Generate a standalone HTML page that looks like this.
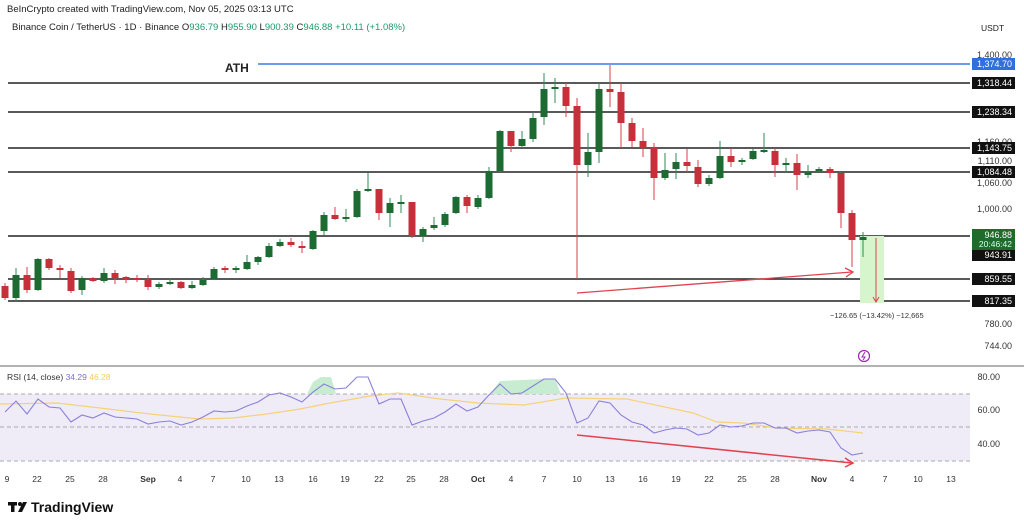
<!DOCTYPE html>
<html><head><meta charset="utf-8"><style>
html,body{margin:0;padding:0;background:#fff;width:1024px;height:526px;overflow:hidden}
svg{display:block;font-family:"Liberation Sans",sans-serif}
</style></head><body>
<svg id="s" width="1024" height="526" viewBox="0 0 1024 526" xmlns="http://www.w3.org/2000/svg">
<text x="7" y="12" font-size="9.5" fill="#222">BeInCrypto created with TradingView.com, Nov 05, 2025 03:13 UTC</text>
<text x="12" y="30" font-size="9.5" fill="#222">Binance Coin / TetherUS · 1D · Binance  <tspan>O</tspan><tspan fill="#1a9a6c">936.79</tspan> H<tspan fill="#1a9a6c">955.90</tspan> L<tspan fill="#1a9a6c">900.39</tspan> C<tspan fill="#1a9a6c">946.88</tspan> <tspan fill="#1a9a6c">+10.11 (+1.08%)</tspan></text>
<text x="981" y="31" font-size="8.5" fill="#222">USDT</text>
<rect x="0" y="394" width="970" height="67" fill="#efecf8"/>
<g id="g"></g>
</svg>
<script>
const g=document.getElementById('g');let h='';
const X=d=>5+11*d;
// horizontal levels
h+='<line x1="258" y1="64" x2="970" y2="64" stroke="#3d7be0" stroke-width="1.5"/>';
[83,112,148,172,236,279,301].forEach(y=>{h+=`<line x1="8" y1="${y}" x2="970" y2="${y}" stroke="#222" stroke-width="1.5"/>`});
h+='<text x="225" y="72" font-size="12" font-weight="bold" fill="#222">ATH</text>';
// green box
h+='<rect x="860" y="236" width="24" height="67" fill="#d6f5cc"/>';
h+='<line x1="876" y1="238" x2="876" y2="301" stroke="#e0434f" stroke-width="1"/><path d="M873,297 L876,302 L879,297" stroke="#e0434f" fill="none"/>';
h+='<text x="830" y="318" font-size="7.5" fill="#333">−126.65 (−13.42%) −12,665</text>';
// candles
const C=[[0,286,298,283,300,'r'],[1,275,298,268,302,'g'],[2,275,290,267,293,'r'],[3,259,290,258,291,'g'],[4,259,268,258,270,'r'],[5,268,270,265,278,'r'],[6,271,291,268,293,'r'],[7,278,290,276,295,'g'],[8,278,281,277,282,'r'],[9,273,281,268,283,'g'],[10,273,278,270,284,'r'],[11,277,278,276,283,'r'],[12,278,280,275,282,'r'],[13,280,287,275,290,'r'],[14,284,287,282,289,'g'],[15,282,283,278,285,'g'],[16,282,288,281,289,'r'],[17,285,288,281,289,'g'],[18,280,285,277,286,'g'],[19,269,279,267,280,'g'],[20,268,269,266,273,'r'],[21,268,269,266,273,'g'],[22,262,269,255,270,'g'],[23,257,262,256,265,'g'],[24,246,257,243,258,'g'],[25,242,246,239,247,'g'],[26,242,245,238,247,'r'],[27,246,248,241,253,'r'],[28,231,249,230,250,'g'],[29,215,231,212,235,'g'],[30,215,219,207,220,'r'],[31,217,219,209,222,'g'],[32,191,217,189,218,'g'],[33,189,191,173,192,'g'],[34,189,213,189,220,'r'],[35,203,213,198,227,'g'],[36,202,203,195,213,'g'],[37,202,236,202,238,'r'],[38,229,236,227,242,'g'],[39,225,228,217,230,'g'],[40,214,225,212,227,'g'],[41,197,213,196,214,'g'],[42,197,206,195,213,'r'],[43,198,207,195,209,'g'],[44,171,198,167,199,'g'],[45,131,171,130,172,'g'],[46,131,146,131,152,'r'],[47,139,146,131,147,'g'],[48,118,139,112,142,'g'],[49,89,117,73,125,'g'],[50,87,89,78,103,'g'],[51,87,106,83,117,'r'],[52,106,165,98,279,'r'],[53,152,165,133,177,'g'],[54,89,152,83,163,'g'],[55,89,92,65,107,'r'],[56,92,123,83,148,'r'],[57,123,141,118,147,'r'],[58,141,148,128,157,'r'],[59,148,178,143,200,'r'],[60,170,178,153,180,'g'],[61,162,169,153,179,'g'],[62,162,166,149,172,'r'],[63,167,184,160,187,'r'],[64,178,184,175,186,'g'],[65,156,178,141,179,'g'],[66,156,162,148,167,'r'],[67,160,162,158,165,'g'],[68,151,159,149,160,'g'],[69,150,152,133,153,'g'],[70,151,165,148,177,'r'],[71,163,165,158,173,'g'],[72,163,175,154,190,'r'],[73,172,175,165,178,'g'],[74,169,170,167,172,'g'],[75,169,173,167,178,'r'],[76,173,213,173,228,'r'],[77,213,240,210,267,'r'],[78,237,240,232,257,'g']];
C.forEach(c=>{const x=X(c[0]);const col=c[5]=='g'?'#1d6b32':'#c7303a';const wc=c[5]=='g'?'#2e8b57':'#d9414b';
h+=`<line x1="${x}" y1="${c[3]}" x2="${x}" y2="${c[4]}" stroke="${wc}" stroke-width="1"/>`;
h+=`<rect x="${x-3.5}" y="${c[1]}" width="7" height="${Math.max(2,c[2]-c[1])}" fill="${col}"/>`;});
// red divergence arrow main
h+='<line x1="577" y1="293" x2="852" y2="272" stroke="#e0434f" stroke-width="1.3"/><path d="M845,268 L853,272 L846,277" stroke="#e0434f" fill="none" stroke-width="1.3"/>';
// lightning
h+='<circle cx="864" cy="356" r="5.5" fill="#fff" stroke="#9c27b0" stroke-width="1.2"/><path d="M865,352 L862,357 L865,357 L863,360" stroke="#9c27b0" fill="none" stroke-width="1"/>';
// right axis
[[55,'1,400.00'],[142,'1,160.00'],[161,'1,110.00'],[183,'1,060.00'],[209,'1,000.00'],[324,'780.00'],[346,'744.00']].forEach(a=>{h+=`<text x="1012" y="${a[0]+3}" font-size="9" fill="#333" text-anchor="end">${a[1]}</text>`});
const tag=(y,t,bg)=>{h+=`<rect x="972" y="${y-6}" width="43" height="12" fill="${bg}"/><text x="1012" y="${y+3}" font-size="9" fill="#fff" text-anchor="end">${t}</text>`};
tag(64,'1,374.70','#2f6fe0');tag(83,'1,318.44','#111');tag(112,'1,238.34','#111');tag(148,'1,143.75','#111');tag(172,'1,084.48','#111');tag(279,'859.55','#111');tag(301,'817.35','#111');tag(255,'943.91','#111');
h+='<rect x="972" y="229" width="43" height="21" fill="#1f6b2a"/><text x="1012" y="238" font-size="9" fill="#fff" text-anchor="end">946.88</text><text x="1012" y="247" font-size="8.5" fill="#cfe" text-anchor="end">20:46:42</text>';
// separator
h+='<line x1="0" y1="366" x2="1024" y2="366" stroke="#999" stroke-width="1.5"/>';
// RSI
[394,427,461].forEach(y=>{h+=`<line x1="0" y1="${y}" x2="970" y2="${y}" stroke="#aaa" stroke-dasharray="4,3" stroke-width="1"/>`});
h+='<text x="7" y="380" font-size="8.5" fill="#333">RSI (14, close) <tspan fill="#7e6fd0">34.29</tspan> <tspan fill="#f2cd5c">46.28</tspan></text>';
[[377,'80.00'],[410,'60.00'],[444,'40.00']].forEach(a=>{h+=`<text x="1000" y="${a[0]+3}" font-size="9" fill="#333" text-anchor="end">${a[1]}</text>`});
const R=[412,401,414,399,407,408,422,415,418,413,417,418,419,424,422,421,425,422,417,411,412,411,406,402,395,393,397,402,392,384,389,388,377,377,404,399,399,425,421,418,412,404,411,407,395,384,394,393,386,379,379,393,423,418,401,403,415,422,425,433,430,428,429,435,433,425,427,426,423,423,428,428,433,431,430,432,448,455,453];
// overbought fills
h+='<polygon points="307,394 313,382 321,377 331,377 336,394" fill="#c8ecd2"/><polygon points="490,394 500,381 544,379 555,379 561,394" fill="#c8ecd2"/>';
const MA=[[0,404],[57,403],[100,408],[150,414],[200,419],[233,418],[267,414],[300,409],[330,403],[370,396],[398,393],[440,399],[478,403],[524,405],[566,398],[627,399],[660,406],[693,413],[717,422],[743,423],[777,428],[827,429],[863,433]];
h+=`<polyline points="${MA.map(p=>p.join(',')).join(' ')}" fill="none" stroke="#f5d27a" stroke-width="1.2"/>`;
h+=`<polyline points="${R.map((v,i)=>X(i)+','+v).join(' ')}" fill="none" stroke="#8a80d8" stroke-width="1.1"/>`;
h+='<line x1="577" y1="435" x2="852" y2="463" stroke="#e0434f" stroke-width="1.5"/><path d="M845,458 L853,463 L845,467" stroke="#e0434f" fill="none" stroke-width="1.5"/>';
// dates
const D=[[7,'9'],[37,'22'],[70,'25'],[103,'28'],[148,'Sep',1],[180,'4'],[213,'7'],[246,'10'],[279,'13'],[313,'16'],[345,'19'],[379,'22'],[411,'25'],[444,'28'],[478,'Oct',1],[511,'4'],[544,'7'],[577,'10'],[610,'13'],[643,'16'],[676,'19'],[709,'22'],[742,'25'],[775,'28'],[819,'Nov',1],[852,'4'],[885,'7'],[918,'10'],[951,'13']];
D.forEach(d=>{h+=`<text x="${d[0]}" y="482" font-size="8.5" fill="#333" text-anchor="middle" ${d[2]?'font-weight="bold"':''}>${d[1]}</text>`});
// logo
h+='<rect x="8" y="502" width="9" height="3.5" fill="#111"/><rect x="11" y="502" width="3.5" height="10" fill="#111"/><circle cx="20" cy="504" r="2" fill="#111"/><polygon points="23,502 27,502 22,512 18,512" fill="#111"/>';
h+='<text x="31" y="512" font-size="14" font-weight="bold" fill="#111">TradingView</text>';
g.innerHTML=h;
</script>
</body></html>
